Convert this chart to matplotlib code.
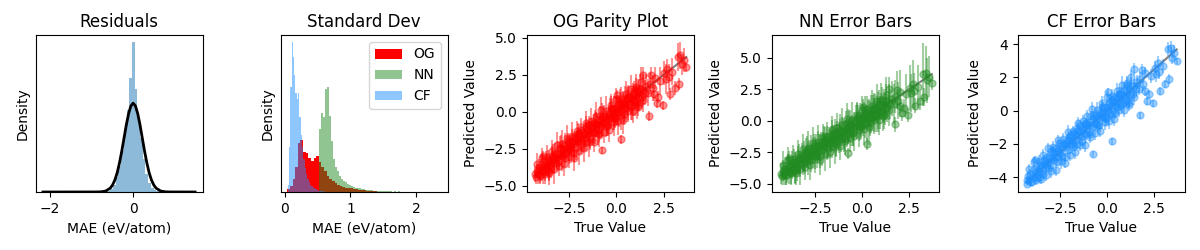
import numpy as np
import matplotlib.pyplot as plt

# residual histogram (density) and the normal fit drawn over it
resid_centers = [-0.6475, -0.5825, -0.5175, -0.4525, -0.3875, -0.3225, -0.2575, -0.1925, -0.1275, -0.0625,
                 0.0025, 0.0675, 0.1325, 0.1975, 0.2625, 0.3275, 0.3925, 0.4575, 0.5225, 0.5875]
resid_density = [0.02, 0.03, 0.07, 0.15, 0.30, 0.52, 0.85, 1.28, 1.68, 2.33,
                 3.05, 2.10, 1.52, 1.10, 0.67, 0.37, 0.18, 0.09, 0.05, 0.03]
resid_bin_width = 0.065

fit_x = [-2.17, -0.88, -0.77, -0.66, -0.55, -0.495, -0.44, -0.385, -0.33, -0.275, -0.22, -0.165, -0.11, -0.055, 0.0,
         0.055, 0.11, 0.165, 0.22, 0.275, 0.33, 0.385, 0.44, 0.495, 0.55, 0.66, 0.77, 0.88, 1.49]
fit_y = [0.0, 0.001, 0.004, 0.020, 0.080, 0.144, 0.245, 0.391, 0.590, 0.829, 1.098, 1.366, 1.596, 1.754, 1.810,
         1.754, 1.596, 1.366, 1.098, 0.829, 0.590, 0.391, 0.245, 0.144, 0.080, 0.020, 0.004, 0.001, 0.0]

# std histograms, relative heights
og_std_start, og_std_width = 0.06, 0.04
og_std_heights = [0.02, 0.04, 0.09, 0.17, 0.33, 0.35, 0.27, 0.26, 0.23, 0.21,
                  0.23, 0.24, 0.20, 0.17, 0.14, 0.11, 0.09, 0.075, 0.06, 0.047,
                  0.04, 0.035, 0.03, 0.027, 0.024, 0.021, 0.018, 0.016, 0.014, 0.012,
                  0.010, 0.008, 0.006, 0.004, 0.003]
nn_std_start, nn_std_width = 0.542, 0.03
nn_std_heights = [0.42, 0.53, 0.50, 0.69, 0.70, 0.51, 0.34, 0.22, 0.17, 0.14,
                  0.11, 0.09, 0.075, 0.065, 0.055, 0.048, 0.04, 0.035, 0.03, 0.027,
                  0.024, 0.02, 0.018, 0.016, 0.014, 0.012, 0.011, 0.01, 0.009, 0.008,
                  0.007, 0.006, 0.006, 0.005, 0.005, 0.004, 0.004, 0.003, 0.004, 0.0,
                  0.004, 0.0, 0.003, 0.0, 0.003]
cf_std_start, cf_std_width = 0.055, 0.02
cf_std_heights = [0.05, 0.30, 0.70, 1.00, 0.90, 0.78, 0.66, 0.62, 0.66, 0.50,
                  0.38, 0.30, 0.22, 0.16, 0.12, 0.09, 0.07, 0.05, 0.04, 0.03,
                  0.025, 0.02, 0.015, 0.01, 0.008, 0.006, 0.005, 0.004, 0.003]

# parity data
true_value = [
    -4.30, -4.25, -4.21, -4.15, -4.10, -4.04, -3.98, -3.93, -3.87, -3.82,
    -3.76, -3.71, -3.65, -3.60, -3.54, -3.49, -3.43, -3.38, -3.32, -3.27,
    -3.21, -3.16, -3.10, -3.05, -2.99, -2.94, -2.88, -2.83, -2.77, -2.72,
    -2.66, -2.61, -2.55, -2.50, -2.44, -2.39, -2.33, -2.28, -2.22, -2.17,
    -2.11, -2.06, -2.00, -1.95, -1.89, -1.84, -1.78, -1.73, -1.67, -1.62,
    -1.56, -1.51, -1.45, -1.40, -1.34, -1.29, -1.23, -1.18, -1.12, -1.07,
    -1.01, -0.96, -0.90, -0.85, -0.79, -0.74, -0.68, -0.63, -0.57, -0.52,
    -0.46, -0.41, -0.35, -0.30, -0.24, -0.19, -0.13, -0.08, -0.02, 0.03,
    0.09, 0.14, 0.20, 0.25, 0.31, 0.36, 0.42, 0.47, 0.53, 0.58,
    0.64, 0.69, 0.75, 0.80, 0.86, 0.91, 0.97, 1.02, 1.08, 1.13,
    1.19, 1.26, 1.34, 1.42, 1.50, -3.57, -3.35, -3.13, -2.91, -2.69,
    -2.47, -2.25, -2.03, -1.81, -1.59, -1.37, -1.15, -0.93, -0.71, -0.49,
    -0.27, -0.05, 0.17, 0.39, 0.61, 0.83, 1.05, 0.25, -0.77, -3.86,
    0.05, 1.16, 1.58, 1.66, 1.72, 1.75, 1.83, 1.92, 2.02, 2.13,
    2.22, 2.30, 2.45, 2.52, 2.60, 2.68, 2.75, 2.81, 2.95, 3.07,
    3.24, 3.28, 3.37, 3.45, 3.55, 3.69, 1.43, 2.00,
    -4.18, -4.05, -3.92, -3.79, -3.66, -3.53, -3.40, -3.27, -3.14, -3.01,
    -2.88, -2.75, -2.62, -2.49, -2.36, -2.23, -2.10, -1.97, -1.84, -1.71,
    -1.58, -1.45, -1.32, -1.19, -1.06, -0.93, -0.80, -0.67, -0.54, -0.41,
    -0.28, -0.15, -0.02, 0.11, 0.24, 0.37, 0.50, 0.63, 0.76, 0.89,
    1.02, 1.15, 1.28, 1.41]
pred_offset = [
    0.10, -0.15, 0.25, -0.05, 0.30, -0.25, 0.05, 0.40, -0.10, 0.15,
    -0.30, 0.20, 0.00, 0.35, -0.20, 0.10, -0.40, 0.25, 0.05, -0.15,
    0.40, 0.05, 0.25, -0.25, 0.55, 0.10, -0.10, 0.30, 0.00, 0.45,
    -0.15, 0.20, 0.60, -0.05, 0.15, -0.35, 0.35, 0.25, 0.05, 0.40,
    -0.25, 0.30, 0.00, 0.50, 0.10, -0.15, 0.45, -0.05, 0.20, -0.40,
    0.35, 0.05, 0.55, -0.20, 0.25, 0.15, -0.10, 0.40, -0.30, 0.20,
    0.20, -0.30, 0.05, 0.55, -0.15, 0.25, -0.05, 0.35, -0.25, 0.10,
    -0.40, 0.15, 0.30, -0.10, 0.45, -0.20, 0.05, -0.35, 0.25, 0.00,
    0.35, -0.25, 0.10, -0.45, 0.20, 0.40, -0.15, 0.05, -0.30, 0.25,
    -0.20, 0.30, -0.40, 0.15, -0.05, 0.35, -0.30, 0.10, -0.50, 0.20,
    -0.25, 0.30, -0.35, 0.05, -0.20, -0.45, 0.40, -0.30, 0.50, -0.40,
    0.35, -0.55, 0.45, -0.35, 0.55, -0.45, 0.40, -0.50, 0.30, -0.45,
    0.50, -0.40, 0.45, -0.55, 0.40, -0.35, 0.50, -2.10, -1.83, 0.91,
    1.05, -0.82, 0.17, -0.36, -2.01, 0.15, 0.62, -0.32, 0.28, -1.53,
    -1.22, -0.20, -2.00, 0.08, -0.40, 0.22, -0.40, -1.61, -0.25, -1.47,
    0.46, -1.38, 0.43, -0.25, -0.05, -0.69, 1.07, -0.80,
    0.65, -0.25, 0.80, -0.40, 0.60, -0.60, 0.75, -0.60, 0.90, -0.65,
    0.70, -0.80, 0.85, -0.55, 0.65, -0.90, 0.80, -0.70, 0.60, -0.75,
    0.85, -0.60, 0.70, -0.85, 0.75, -0.65, 0.90, -0.70, 0.60, -0.80,
    0.75, -0.55, 0.85, -0.75, 0.65, -0.90, 0.70, -0.60, 0.80, -0.85,
    0.65, -0.70, 0.75, -0.60]
og_err = [
    0.55, 0.50, 0.45, 0.70, 0.60, 0.50, 0.75, 0.65, 0.90, 0.55,
    0.60, 0.85, 0.50, 0.70, 0.95, 0.45, 0.65, 0.80, 0.55, 0.75,
    0.70, 0.50, 0.90, 0.60, 0.80, 0.55, 1.00, 0.65, 0.45, 0.85,
    0.60, 0.75, 0.55, 0.95, 0.50, 0.70, 0.85, 0.60, 0.80, 0.45,
    0.90, 0.55, 0.70, 0.60, 1.05, 0.65, 0.50, 0.85, 0.75, 0.60,
    0.55, 0.80, 0.65, 1.00, 0.70, 0.50, 0.90, 0.60, 0.75, 0.85,
    0.65, 0.95, 0.55, 0.70, 0.80, 1.10, 0.60, 0.75, 0.90, 0.55,
    0.80, 0.60, 1.00, 0.70, 0.65, 0.85, 1.15, 0.55, 0.75, 0.95,
    0.70, 0.90, 0.60, 1.05, 0.80, 0.65, 0.95, 1.20, 0.70, 0.85,
    1.00, 0.75, 0.90, 0.65, 1.10, 0.80, 0.95, 0.70, 1.05, 0.85,
    0.90, 1.00, 0.75, 1.10, 0.85, 0.60, 0.75, 0.55, 0.85, 0.65,
    0.70, 0.60, 0.80, 0.55, 0.75, 0.65, 0.90, 0.60, 0.80, 0.70,
    0.85, 0.65, 0.95, 0.70, 0.80, 1.00, 0.75, 0.30, 0.25, 0.30,
    0.35, 0.30, 0.80, 0.90, 0.35, 0.70, 0.60, 0.85, 0.75, 0.35,
    0.40, 0.95, 0.30, 0.80, 1.00, 0.65, 0.85, 0.40, 0.90, 0.45,
    0.95, 0.40, 0.90, 0.70, 0.80, 0.30, 0.55, 0.50,
    0.75, 0.60, 0.70, 0.70, 0.80, 0.80, 0.75, 1.00, 0.85, 0.70,
    0.95, 0.80, 0.90, 0.75, 1.00, 0.85, 0.70, 0.95, 0.80, 0.90,
    0.75, 1.00, 0.85, 0.70, 0.95, 0.80, 0.90, 0.75, 1.00, 0.85,
    0.70, 0.95, 0.80, 0.90, 0.75, 1.00, 0.85, 0.70, 0.95, 0.80,
    0.90, 0.75, 1.00, 0.85]
nn_err = [
    0.85, 0.70, 0.80, 0.90, 0.90, 0.80, 1.05, 0.85, 1.05, 0.90,
    0.95, 1.10, 0.85, 1.00, 1.25, 0.80, 0.95, 1.15, 0.90, 1.05,
    1.00, 0.85, 1.20, 0.95, 1.10, 0.90, 1.30, 1.00, 0.85, 1.15,
    0.95, 1.05, 0.90, 1.25, 0.85, 1.00, 1.15, 0.95, 1.10, 0.90,
    1.20, 0.90, 1.05, 0.95, 1.35, 1.00, 0.85, 1.15, 1.05, 0.95,
    0.90, 1.10, 1.00, 1.30, 1.05, 0.85, 1.20, 0.95, 1.10, 1.15,
    1.00, 1.25, 0.90, 1.05, 1.15, 1.40, 0.95, 1.10, 1.20, 0.90,
    1.15, 0.95, 1.30, 1.05, 1.00, 1.20, 1.45, 0.90, 1.10, 1.25,
    1.05, 1.25, 0.95, 1.40, 1.15, 1.00, 1.30, 1.50, 1.05, 1.20,
    1.35, 1.10, 1.25, 1.00, 1.45, 1.15, 1.30, 1.05, 1.40, 1.20,
    1.25, 1.35, 1.10, 1.45, 1.20, 0.95, 1.10, 0.90, 1.20, 1.00,
    1.05, 0.95, 1.15, 0.90, 1.10, 1.00, 1.25, 0.95, 1.15, 1.05,
    1.20, 1.00, 1.30, 1.05, 1.15, 1.35, 1.10, 0.50, 0.45, 0.55,
    0.60, 0.55, 1.40, 1.60, 0.60, 1.30, 1.50, 1.45, 1.70, 0.65,
    0.70, 1.60, 0.55, 1.80, 1.50, 1.90, 1.40, 0.60, 1.70, 0.75,
    2.50, 0.70, 2.10, 1.80, 1.60, 0.55, 1.00, 0.90,
    1.10, 0.80, 1.05, 0.90, 1.15, 1.00, 1.10, 1.20, 1.20, 1.05,
    1.35, 1.15, 1.30, 1.10, 1.40, 1.20, 1.05, 1.35, 1.15, 1.30,
    1.10, 1.40, 1.20, 1.05, 1.35, 1.15, 1.30, 1.10, 1.40, 1.20,
    1.05, 1.35, 1.15, 1.30, 1.10, 1.40, 1.20, 1.05, 1.35, 1.15,
    1.30, 1.10, 1.40, 1.20]
cf_err = [
    0.20, 0.15, 0.25, 0.18, 0.30, 0.22, 0.16, 0.28, 0.20, 0.24,
    0.18, 0.26, 0.20, 0.32, 0.17, 0.24, 0.21, 0.29, 0.19, 0.25,
    0.27, 0.20, 0.34, 0.22, 0.30, 0.18, 0.26, 0.23, 0.36, 0.21,
    0.25, 0.31, 0.19, 0.28, 0.24, 0.35, 0.20, 0.27, 0.22, 0.33,
    0.23, 0.38, 0.21, 0.29, 0.26, 0.32, 0.24, 0.40, 0.22, 0.30,
    0.28, 0.22, 0.35, 0.25, 0.42, 0.27, 0.31, 0.23, 0.37, 0.26,
    0.30, 0.24, 0.39, 0.28, 0.33, 0.45, 0.26, 0.35, 0.29, 0.41,
    0.27, 0.36, 0.31, 0.44, 0.29, 0.38, 0.33, 0.47, 0.30, 0.35,
    0.40, 0.32, 0.46, 0.34, 0.38, 0.30, 0.43, 0.36, 0.49, 0.33,
    0.37, 0.45, 0.35, 0.41, 0.50, 0.39, 0.44, 0.36, 0.42, 0.48,
    0.40, 0.46, 0.38, 0.44, 0.41, 0.22, 0.28, 0.25, 0.30, 0.24,
    0.27, 0.23, 0.32, 0.26, 0.35, 0.29, 0.33, 0.30, 0.38, 0.34,
    0.36, 0.31, 0.40, 0.35, 0.42, 0.37, 0.45, 0.20, 0.18, 0.22,
    0.25, 0.20, 0.40, 0.35, 0.22, 0.45, 0.38, 0.42, 0.36, 0.24,
    0.26, 0.44, 0.20, 0.40, 0.46, 0.38, 0.42, 0.25, 0.40, 0.22,
    0.43, 0.28, 0.37, 0.40, 0.45, 0.20, 0.35, 0.30,
    0.30, 0.20, 0.35, 0.30, 0.40, 0.28, 0.33, 0.38, 0.30, 0.42,
    0.35, 0.40, 0.32, 0.45, 0.36, 0.30, 0.42, 0.38, 0.34, 0.44,
    0.37, 0.40, 0.33, 0.46, 0.38, 0.35, 0.42, 0.39, 0.45, 0.36,
    0.40, 0.44, 0.37, 0.48, 0.41, 0.38, 0.46, 0.42, 0.50, 0.40,
    0.44, 0.47, 0.42, 0.45]

true_value = np.array(true_value)
pred_value = true_value + np.array(pred_offset)

fig, axes = plt.subplots(ncols=5, nrows=1, figsize=(12, 2.5))
lefts = [0.0296, 0.2339, 0.4389, 0.6433, 0.8481]
for ax, l in zip(axes, lefts):
    ax.set_position([l, 0.232, 0.1392, 0.628])

# residuals
ax = axes[0]
ax.bar(resid_centers, resid_density, width=resid_bin_width, color="#1f77b4", alpha=0.5, linewidth=0)
ax.plot(fit_x, fit_y, color="k", lw=2)
ax.set_xlim(-2.35, 1.67)
ax.set_ylim(0, 3.2)
ax.set_yticks([])
ax.set_title("Residuals")
ax.set_xlabel("MAE (eV/atom)")
ax.set_ylabel("Density")

# standard deviations
ax = axes[1]
og_c = og_std_start + og_std_width*np.arange(len(og_std_heights))
nn_c = nn_std_start + nn_std_width*np.arange(len(nn_std_heights))
cf_c = cf_std_start + cf_std_width*np.arange(len(cf_std_heights))
ax.bar(og_c, og_std_heights, width=og_std_width, color="red", linewidth=0, label="OG")
ax.bar(nn_c, nn_std_heights, width=nn_std_width, color="forestgreen", alpha=0.5, linewidth=0, label="NN")
ax.bar(cf_c, cf_std_heights, width=cf_std_width, color="dodgerblue", alpha=0.5, linewidth=0, label="CF")
ax.set_xlim(-0.06, 2.48)
ax.set_ylim(0, 1.05)
ax.set_yticks([])
ax.set_xticks([0, 1, 2])
ax.legend(loc="upper right")
ax.set_title("Standard Dev")
ax.set_xlabel("MAE (eV/atom)")
ax.set_ylabel("Density")

# parity plots
panels = [
    ("OG Parity Plot", og_err, "red", (-4.73, 4.08), (-5.41, 5.18)),
    ("NN Error Bars", nn_err, "forestgreen", (-4.78, 4.07), (-5.66, 6.80)),
    ("CF Error Bars", cf_err, "dodgerblue", (-4.77, 4.12), (-4.90, 4.56)),
]
lo, hi = true_value.min(), true_value.max()
for ax, (title, err, color, xl, yl) in zip(axes[2:], panels):
    ax.plot([lo, hi], [lo, hi], color="k", alpha=0.5, lw=1.5)
    ax.errorbar(true_value, pred_value, yerr=err, fmt="o", color=color, alpha=0.42, ms=5)
    ax.set_xlim(*xl)
    ax.set_ylim(*yl)
    ax.set_title(title)
    ax.set_xlabel("True Value")
    ax.set_ylabel("Predicted Value")

fig.savefig("out.png", dpi=100)
